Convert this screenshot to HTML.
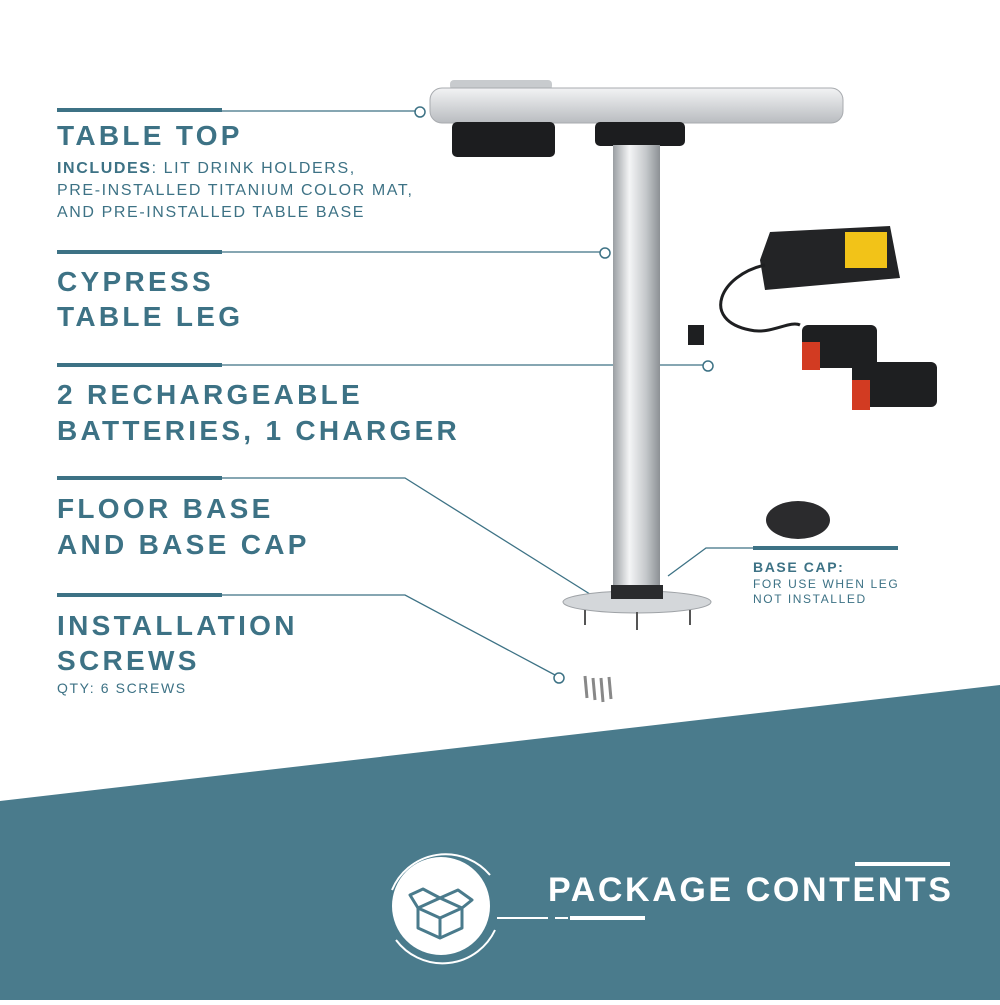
<!DOCTYPE html>
<html><head><meta charset="utf-8"><style>
body{margin:0;width:1000px;height:1000px;background:#fff;overflow:hidden}
text{font-family:"Liberation Sans",sans-serif}
</style></head><body>
<svg width="1000" height="1000" viewBox="0 0 1000 1000">
<defs>
<linearGradient id="pole" x1="0" x2="1"><stop offset="0" stop-color="#9a9ea2"/><stop offset=".35" stop-color="#f4f5f6"/><stop offset=".7" stop-color="#c5c8cb"/><stop offset="1" stop-color="#8c9094"/></linearGradient>
<linearGradient id="top" x1="0" y1="0" x2="0" y2="1"><stop offset="0" stop-color="#f2f3f4"/><stop offset="1" stop-color="#b9bcc0"/></linearGradient>
</defs>
<polygon points="0,801 1000,685 1000,1000 0,1000" fill="#4a7b8c"/>
<g stroke="#3d7285" fill="none">
<rect x="57" y="108" width="165" height="4" fill="#3d7285" stroke="none"/>
<line x1="222" y1="111" x2="416" y2="111" stroke-width="1.3"/><circle cx="420" cy="112" r="5" stroke-width="1.5"/>
<rect x="57" y="250" width="165" height="4" fill="#3d7285" stroke="none"/>
<line x1="222" y1="252" x2="600" y2="252" stroke-width="1.3"/><circle cx="605" cy="253" r="5" stroke-width="1.5"/>
<rect x="57" y="363" width="165" height="4" fill="#3d7285" stroke="none"/>
<line x1="222" y1="365" x2="703" y2="365" stroke-width="1.3"/><circle cx="708" cy="366" r="5" stroke-width="1.5"/>
<rect x="57" y="476" width="165" height="4" fill="#3d7285" stroke="none"/>
<polyline points="222,478 405,478 593,596" stroke-width="1.3"/><circle cx="597" cy="599" r="5" stroke-width="1.5"/>
<rect x="57" y="593" width="165" height="4" fill="#3d7285" stroke="none"/>
<polyline points="222,595 405,595 555,675" stroke-width="1.3"/><circle cx="559" cy="678" r="5" stroke-width="1.5"/>
<polyline points="668,576 706,548 898,548" stroke-width="1.3"/>
<rect x="753" y="546" width="145" height="4" fill="#3d7285" stroke="none"/>
</g>
<g fill="#3d7285" font-weight="bold" font-size="28" letter-spacing="3.3">
<text x="57" y="145">TABLE TOP</text>
<text x="57" y="291">CYPRESS</text><text x="57" y="326">TABLE LEG</text>
<text x="57" y="404">2 RECHARGEABLE</text><text x="57" y="440">BATTERIES, 1 CHARGER</text>
<text x="57" y="518">FLOOR BASE</text><text x="57" y="554">AND BASE CAP</text>
<text x="57" y="635">INSTALLATION</text><text x="57" y="670">SCREWS</text>
</g>
<g fill="#3d7285" font-size="16" letter-spacing="1.6">
<text x="57" y="173"><tspan font-weight="bold">INCLUDES</tspan>: LIT DRINK HOLDERS,</text>
<text x="57" y="195">PRE-INSTALLED TITANIUM COLOR MAT,</text>
<text x="57" y="217">AND PRE-INSTALLED TABLE BASE</text>
<text x="57" y="693" font-size="14">QTY: 6 SCREWS</text>
<text x="753" y="572" font-size="14" font-weight="bold">BASE CAP:</text>
<text x="753" y="588" font-size="12">FOR USE WHEN LEG</text>
<text x="753" y="603" font-size="12">NOT INSTALLED</text>
</g>
<rect x="450" y="80" width="102" height="10" rx="4" fill="#c8cbce"/>
<rect x="430" y="88" width="413" height="35" rx="12" fill="url(#top)" stroke="#a8abaf"/>
<rect x="452" y="122" width="103" height="35" rx="5" fill="#1c1d1f"/>
<rect x="595" y="122" width="90" height="24" rx="5" fill="#1c1d1f"/>
<rect x="613" y="145" width="47" height="448" fill="url(#pole)"/>
<ellipse cx="637" cy="602" rx="74" ry="11" fill="#d4d7da" stroke="#9ea2a6"/>
<rect x="611" y="585" width="52" height="14" fill="#2a2b2d"/>
<g stroke="#555" stroke-width="2"><line x1="585" y1="610" x2="585" y2="625"/><line x1="637" y1="612" x2="637" y2="630"/><line x1="690" y1="610" x2="690" y2="625"/></g>
<ellipse cx="798" cy="520" rx="32" ry="19" fill="#2b2b2d"/>
<path d="M770 232 L890 226 L900 278 L765 290 L760 260 Z" fill="#232426"/>
<rect x="845" y="232" width="42" height="36" fill="#f2c318"/>
<path d="M765 265 C720 275 700 320 750 330 C770 335 790 320 800 325" stroke="#1e1f21" stroke-width="3" fill="none"/>
<rect x="688" y="325" width="16" height="20" fill="#1e1f21"/>
<rect x="802" y="325" width="75" height="43" rx="6" fill="#1e1f21"/>
<rect x="802" y="342" width="18" height="28" fill="#d23b22"/>
<rect x="852" y="362" width="85" height="45" rx="6" fill="#1e1f21"/>
<rect x="852" y="380" width="18" height="30" fill="#d23b22"/>
<g stroke="#888" stroke-width="3"><line x1="585" y1="676" x2="587" y2="698"/><line x1="593" y1="678" x2="595" y2="700"/><line x1="601" y1="678" x2="603" y2="702"/><line x1="609" y1="677" x2="611" y2="699"/></g>
<g stroke="#fff" fill="none" stroke-width="2">
<path d="M392 890 A58 58 0 0 1 490 875"/><path d="M396 940 A58 58 0 0 0 495 930"/>
<line x1="497" y1="918" x2="548" y2="918"/><line x1="555" y1="918" x2="568" y2="918"/>
<line x1="855" y1="864" x2="950" y2="864" stroke-width="4"/>
<line x1="570" y1="918" x2="645" y2="918" stroke-width="4"/>
</g>
<circle cx="441" cy="906" r="49" fill="#fff"/>
<g stroke="#4a7b8c" stroke-width="3" fill="none" stroke-linejoin="round">
<path d="M418 908 L440 898 L462 908 L440 918 Z"/><path d="M418 908 L418 928 L440 938 L462 928 L462 908"/><line x1="440" y1="918" x2="440" y2="938"/>
<path d="M418 908 L410 895 L423 889 L440 898"/><path d="M440 898 L458 890 L472 900 L462 908"/>
</g>
<text x="548" y="901" fill="#fff" font-size="34" font-weight="bold" letter-spacing="2.6">PACKAGE CONTENTS</text>
</svg>
</body></html>
